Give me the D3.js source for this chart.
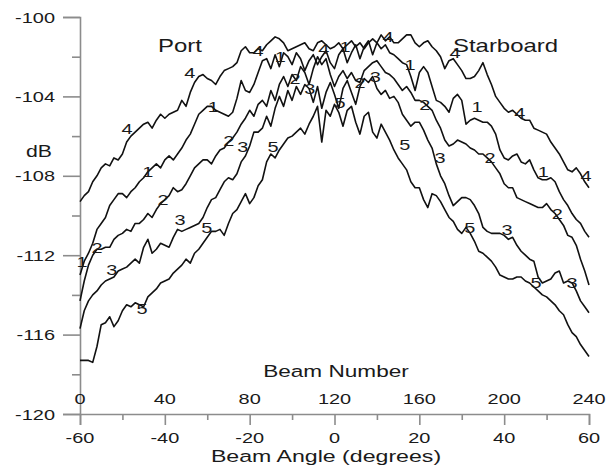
<!DOCTYPE html>
<html>
<head>
<meta charset="utf-8">
<title>Beam pattern</title>
<script src="https://d3js.org/d3.v7.min.js"></script>
<style>
    body { margin: 0; background: #fff; }
    text { font-family: "Liberation Sans", Arial, sans-serif; fill: #1a1a1a; }
</style>
</head>
<body>
<svg width="613" height="468" id="mainSvg"></svg>
<script>
// beam angle grid, one sample per degree
const beamAngle = d3.range(-60, 61);

// dB readings for each labelled curve, angle -60 .. 60
const curve4 = [-109.3,-109.0,-108.8,-108.3,-108.0,-107.6,-107.4,-107.5,-107.1,-107.2,
    -106.9,-106.3,-106.0,-105.8,-105.6,-105.4,-105.3,-105.6,-105.2,-104.9,
    -105.1,-104.9,-104.8,-104.7,-104.2,-104.5,-103.8,-103.3,-103.0,-102.9,
    -103.1,-103.2,-103.4,-103.0,-102.7,-102.6,-102.5,-102.3,-101.7,-101.5,
    -101.8,-101.8,-101.6,-101.7,-101.4,-101.2,-101.0,-101.1,-101.3,-101.7,
    -101.6,-101.5,-101.4,-101.3,-101.6,-101.7,-101.3,-101.2,-101.4,-101.6,
    -101.5,-101.3,-101.6,-101.4,-101.2,-101.5,-101.3,-101.6,-101.3,-101.1,
    -101.3,-100.9,-101.2,-101.0,-101.3,-101.3,-101.1,-100.9,-100.9,-101.3,
    -101.5,-101.3,-101.2,-101.5,-101.7,-102.0,-102.6,-102.2,-102.1,-102.4,
    -102.7,-103.1,-103.1,-103.0,-102.7,-102.3,-102.9,-103.4,-104.0,-104.3,
    -104.6,-104.8,-104.7,-104.9,-105.1,-105.2,-105.2,-105.6,-105.7,-105.8,
    -105.9,-106.3,-106.6,-106.9,-107.3,-107.7,-107.8,-107.6,-107.9,-108.3,-108.6];

const curve1 = [-113.0,-112.3,-111.9,-111.4,-110.7,-110.4,-110.1,-109.5,-109.2,-108.9,
    -108.9,-109.1,-108.8,-108.6,-108.3,-108.1,-107.8,-107.6,-107.4,-107.6,
    -107.2,-107.0,-107.2,-106.9,-106.6,-106.2,-105.9,-105.4,-104.9,-104.7,
    -104.5,-104.5,-104.7,-104.8,-104.9,-105.0,-104.8,-104.1,-103.2,-103.7,
    -103.8,-103.4,-102.8,-102.2,-102.1,-102.6,-101.9,-102.5,-101.8,-102.0,
    -102.4,-101.8,-102.1,-102.7,-102.2,-101.9,-102.4,-102.0,-101.7,-102.3,
    -102.6,-101.9,-101.6,-102.3,-101.8,-101.4,-102.1,-101.5,-101.2,-101.9,
    -101.3,-101.6,-101.4,-101.8,-101.9,-102.1,-102.3,-102.4,-103.0,-103.7,
    -102.8,-102.5,-102.8,-103.5,-104.2,-104.3,-104.5,-104.8,-104.1,-103.9,
    -104.2,-105.4,-105.2,-105.1,-105.2,-105.3,-105.3,-105.5,-105.9,-106.7,
    -107.1,-107.2,-107.0,-106.9,-107.3,-107.4,-107.2,-107.7,-108.1,-108.2,
    -108.2,-108.1,-108.3,-108.8,-109.2,-109.5,-109.9,-110.2,-110.4,-110.8,-111.1];

const curve2 = [-114.3,-113.3,-112.5,-112.0,-111.7,-111.7,-111.6,-111.6,-111.2,-111.0,
    -110.9,-110.7,-110.8,-110.4,-110.4,-110.2,-109.9,-110.1,-109.7,-109.4,
    -109.2,-109.0,-108.6,-108.8,-108.7,-108.4,-108.0,-107.6,-107.4,-107.2,
    -107.2,-107.4,-107.0,-106.7,-106.6,-106.3,-106.1,-105.8,-105.4,-105.1,
    -104.7,-105.0,-104.4,-104.2,-104.5,-103.7,-104.2,-103.4,-103.0,-103.5,
    -102.9,-103.2,-102.5,-102.8,-103.4,-102.6,-102.0,-102.4,-102.1,-102.9,
    -103.5,-103.0,-102.7,-103.1,-102.8,-103.2,-103.3,-102.7,-102.5,-102.3,
    -102.2,-102.5,-102.8,-102.9,-103.1,-103.4,-103.7,-103.5,-103.8,-104.2,
    -104.2,-104.3,-104.5,-104.7,-105.2,-105.6,-106.2,-106.5,-106.4,-106.2,
    -106.3,-106.4,-106.6,-106.7,-106.9,-106.9,-107.1,-107.3,-107.6,-107.9,
    -108.4,-108.6,-108.6,-109.1,-109.2,-109.3,-109.4,-109.5,-109.6,-109.6,
    -109.4,-109.7,-109.9,-110.2,-110.5,-111.0,-111.1,-111.5,-112.2,-112.8,-113.5];

const curve3 = [-115.7,-114.8,-114.3,-114.0,-113.8,-113.5,-113.3,-113.2,-113.1,-112.8,
    -112.7,-112.6,-112.4,-112.2,-112.4,-111.6,-111.2,-111.9,-111.7,-111.4,
    -111.5,-111.6,-111.1,-110.7,-110.8,-110.7,-110.6,-110.5,-110.4,-110.1,
    -109.6,-109.2,-109.1,-108.7,-108.3,-108.1,-108.2,-107.9,-107.3,-107.0,
    -106.5,-105.8,-105.8,-105.6,-105.0,-105.5,-104.6,-104.0,-104.5,-103.7,
    -104.2,-103.5,-103.9,-103.4,-103.6,-104.3,-103.5,-104.6,-103.8,-103.3,
    -103.9,-104.6,-103.6,-103.2,-103.8,-104.4,-103.5,-103.1,-103.3,-103.0,
    -103.6,-103.9,-103.7,-104.1,-104.0,-104.3,-104.9,-105.2,-105.5,-105.3,
    -105.3,-105.7,-106.2,-106.6,-107.4,-108.0,-108.4,-109.0,-109.5,-109.3,
    -109.1,-109.1,-109.2,-109.5,-109.9,-110.6,-110.8,-110.9,-110.9,-110.9,
    -111.0,-111.2,-111.1,-111.5,-111.8,-112.0,-112.2,-112.3,-113.1,-113.4,
    -113.3,-113.2,-112.9,-112.8,-113.4,-113.3,-113.4,-113.8,-114.3,-114.6,-114.9];

const curve5 = [-117.3,-117.3,-117.3,-117.4,-116.6,-115.5,-115.4,-115.1,-115.6,-115.3,
    -114.8,-114.5,-114.6,-114.4,-114.5,-114.6,-114.1,-113.9,-113.7,-113.4,
    -113.3,-113.2,-112.9,-112.7,-112.5,-112.2,-112.4,-111.9,-111.7,-111.4,
    -111.1,-110.8,-110.8,-110.7,-111.0,-110.4,-109.9,-109.7,-109.3,-108.9,
    -109.4,-109.1,-108.5,-108.2,-107.3,-106.9,-107.1,-106.7,-106.4,-106.1,
    -106.0,-105.8,-105.6,-105.9,-105.4,-105.0,-104.5,-106.3,-104.7,-105.0,
    -104.4,-104.8,-105.5,-104.7,-104.5,-105.3,-105.9,-105.0,-104.8,-105.8,
    -106.1,-105.4,-105.8,-106.2,-106.7,-107.1,-107.4,-107.7,-108.3,-108.6,
    -108.6,-109.2,-109.6,-108.9,-109.0,-109.3,-109.7,-110.1,-110.3,-110.7,
    -110.9,-110.6,-110.9,-111.3,-111.8,-111.9,-112.1,-112.3,-112.6,-113.0,
    -113.1,-113.2,-113.2,-113.1,-113.1,-113.3,-113.4,-113.6,-113.8,-114.0,
    -114.1,-114.3,-114.5,-114.8,-115.0,-115.5,-115.9,-116.1,-116.5,-116.8,-117.1];

const seriesNames = ['4', '1', '2', '3', '5'];
const seriesValues = [curve4, curve1, curve2, curve3, curve5];

// where each curve number is written: [name, angle, dB]
const curveLabels = [
    ['4', -48.9, -105.6], ['4', -34.1, -102.8], ['4', -18.0, -101.7], ['4', -2.5, -101.6],
    ['4', 12.6, -101.0], ['4', 28.4, -101.8], ['4', 43.7, -104.8], ['4', 59.3, -108.0],
    ['1', -59.5, -112.3], ['1', -44.0, -107.8], ['1', -28.6, -104.5], ['1', -12.8, -102.0],
    ['1', 2.5, -101.5], ['1', 17.8, -102.4], ['1', 33.6, -104.5], ['1', 49.2, -107.8],
    ['2', -56.0, -111.6], ['2', -40.4, -109.2], ['2', -24.9, -106.2], ['2', -9.3, -103.1],
    ['2', 6.0, -103.3], ['2', 21.3, -104.4], ['2', 36.7, -107.1], ['2', 52.5, -109.9],
    ['3', -52.5, -112.7], ['3', -36.4, -110.2], ['3', -21.6, -106.5], ['3', -5.8, -103.6],
    ['3', 9.6, -103.0], ['3', 24.9, -107.1], ['3', 40.7, -110.7], ['3', 56.0, -113.4],
    ['5', -45.4, -114.7], ['5', -30.1, -110.6], ['5', -14.5, -106.5], ['5', 1.3, -104.3],
    ['5', 16.6, -106.4], ['5', 31.9, -110.6], ['5', 47.5, -113.4]
];

const yTicks = [-100, -104, -108, -112, -116, -120];
const yMinorTicks = [-102, -106, -110, -114, -118];
const xTicks = [-60, -40, -20, 0, 20, 40, 60];
const xMinorTicks = [-50, -30, -10, 10, 30, 50];
const beamTicks = [0, 40, 80, 120, 160, 200, 240];

const svg = d3.select('#mainSvg');
const stretch = 1.33;   // the reference lettering is wide

const xScale = d3.scaleLinear().domain([-60, 60]).range([80, 589]);
const beamScale = d3.scaleLinear().domain([0, 240]).range([80, 589]);
const yScale = d3.scaleLinear().domain([-100, -120]).range([17, 414]);

function label(x, y, str, size, anchor) {
    return svg.append('text')
        .attr('transform', `translate(${x},${y}) scale(${stretch},1)`)
        .attr('font-size', size)
        .attr('text-anchor', anchor || 'middle')
        .text(str);
}

const axisColor = '#8c8c8c';

// y axis
svg.append('g').attr('transform', 'translate(80,0)')
    .call(d3.axisLeft(yScale).tickValues(yTicks).tickSize(17).tickFormat(''));
svg.append('g').attr('transform', 'translate(80,0)')
    .call(d3.axisLeft(yScale).tickValues(yMinorTicks).tickSize(8).tickFormat(''))
    .select('.domain').remove();

// x axis
svg.append('g').attr('transform', 'translate(0,414)')
    .call(d3.axisBottom(xScale).tickValues(xTicks).tickSize(11).tickFormat(''));
svg.append('g').attr('transform', 'translate(0,414)')
    .call(d3.axisBottom(xScale).tickValues(xMinorTicks).tickSize(6).tickFormat(''))
    .select('.domain').remove();

svg.selectAll('.domain, .tick line')
    .attr('stroke', axisColor)
    .attr('stroke-width', 1.6);

yTicks.forEach(v => label(55, yScale(v) + 5.5, v, 15, 'end'));
xTicks.forEach(v => label(xScale(v), 443, v, 15));
beamTicks.forEach(v => label(beamScale(v), 404, v, 15));

label(336, 377, 'Beam Number', 17);
label(326, 462, 'Beam Angle (degrees)', 17.4);
label(26, 157, 'dB', 16, 'start');
label(158, 52, 'Port', 18, 'start');
label(453, 52, 'Starboard', 18, 'start');

// curves
const line = d3.line()
    .x((d, i) => xScale(beamAngle[i]))
    .y(d => yScale(d));

svg.append('g').selectAll('path')
    .data(seriesValues)
    .join('path')
    .attr('d', line)
    .attr('fill', 'none')
    .attr('stroke', '#111')
    .attr('stroke-width', 1.6)
    .attr('stroke-linejoin', 'round');

curveLabels.forEach(d => label(xScale(d[1]), yScale(d[2]) + 5.5, d[0], 15));
</script>
</body>
</html>
